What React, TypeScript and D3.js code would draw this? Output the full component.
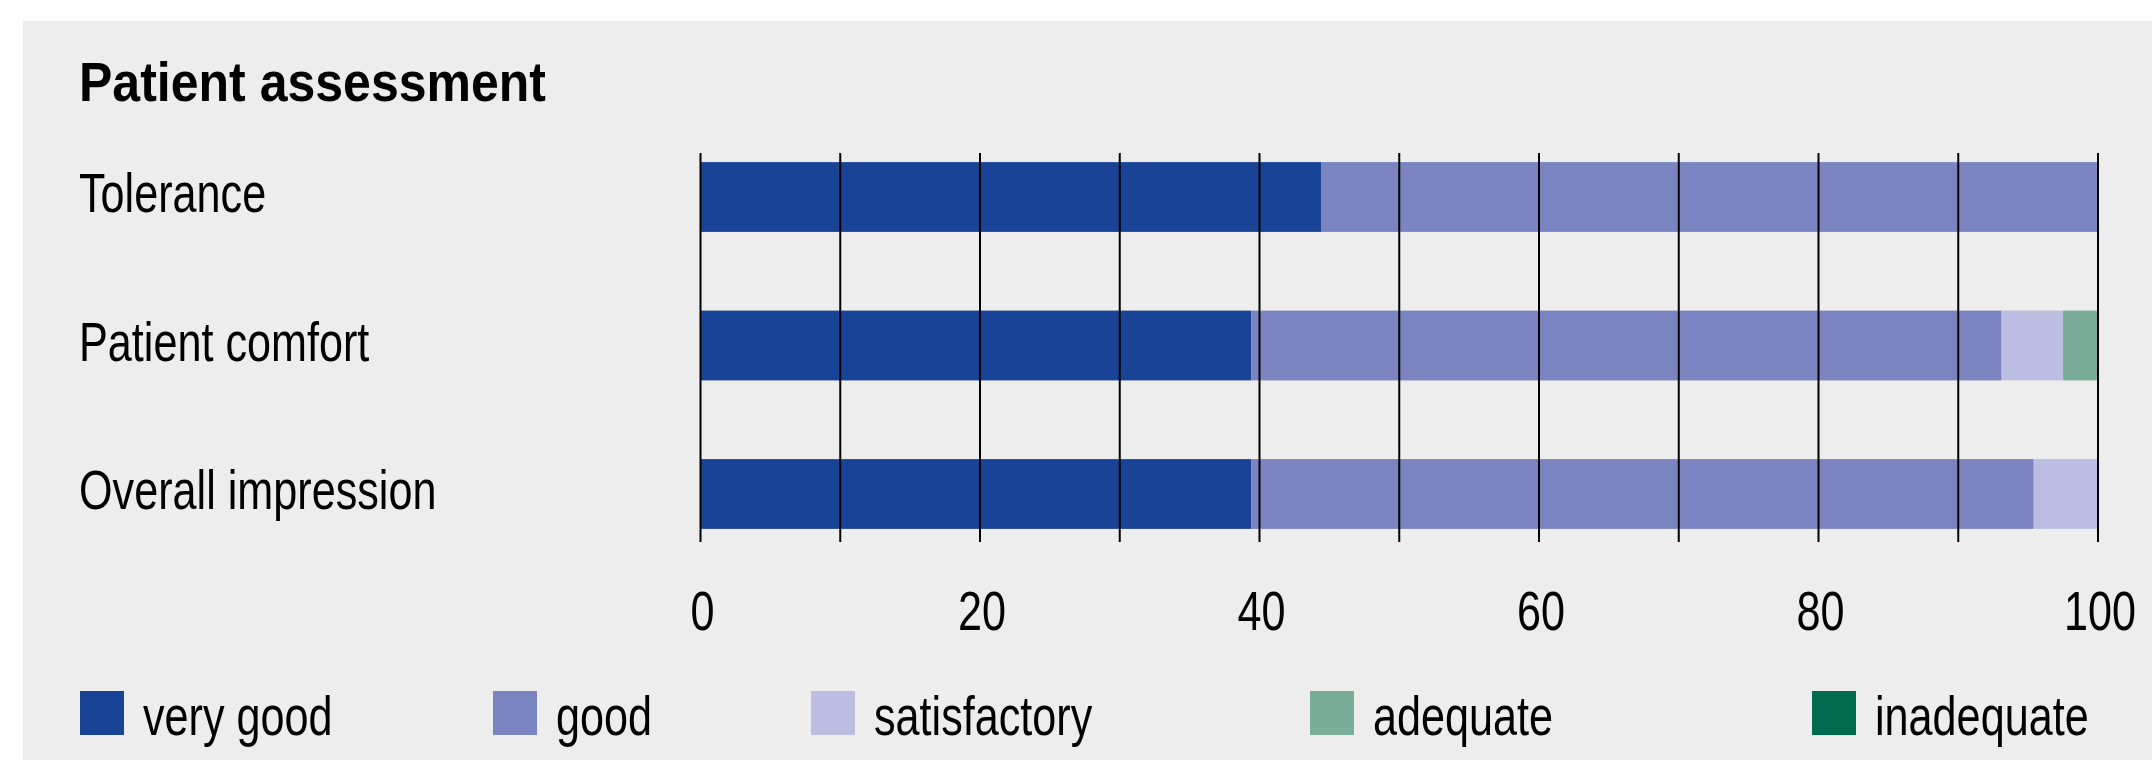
import React from "react";
import * as d3 from "d3";

const title = "Patient assessment";
const categories = ["Tolerance", "Patient comfort", "Overall impression"];
const seriesNames = ["very good", "good", "satisfactory", "adequate", "inadequate"];
const veryGood = [44.4, 39.4, 39.4];
const good = [55.6, 53.7, 56.0];
const satisfactory = [0, 4.4, 4.6];
const adequate = [0, 2.5, 0];
const inadequate = [0, 0, 0];
const xTicks = [0, 20, 40, 60, 80, 100];
const gridValues = [0, 10, 20, 30, 40, 50, 60, 70, 80, 90, 100];

const colors = ["#184396", "#7a84c0", "#bbbee0", "#79ad99", "#006b4e"];
const legendX = [80, 493, 811, 1310, 1812];

const W = 2152;
const H = 760;
const FONT = "'Liberation Sans', Arial, sans-serif";
const SX = 0.785;
const FS = 55;

function Label(props: { x: number; y: number; size: number; anchor?: string; children: any }) {
  return (
    <text
      transform={`translate(${props.x},${props.y}) scale(${SX},1)`}
      fontSize={props.size}
      textAnchor={props.anchor || "start"}
      fill="#000"
    >
      {props.children}
    </text>
  );
}

export default function App() {
  const rows = categories.map((c, i) => ({
    cat: c,
    "very good": veryGood[i],
    good: good[i],
    satisfactory: satisfactory[i],
    adequate: adequate[i],
    inadequate: inadequate[i],
  }));
  const stacked = d3.stack<any>().keys(seriesNames)(rows);

  const x = d3.scaleLinear().domain([0, 100]).range([700.5, 2098]);
  const y = d3
    .scaleBand<string>()
    .domain(categories)
    .range([122.75, 568.25])
    .paddingInner(0.53)
    .paddingOuter(0.265);
  const color = d3.scaleOrdinal<string, string>().domain(seriesNames).range(colors);

  const gridTop = 153;
  const gridBottom = 542;

  return (
    <svg
      width={W}
      height={H}
      style={{ position: "absolute", left: 0, top: 0, display: "block" }}
      fontFamily={FONT}
    >
      <rect x={0} y={0} width={W} height={H} fill="#ffffff" />
      <rect x={23} y={21} width={W - 23} height={H - 21} fill="#ededed" />

      <text
        x={79}
        y={101}
        fontSize={56}
        fontWeight="bold"
        fill="#000"
        textLength={467}
        lengthAdjust="spacingAndGlyphs"
      >
        {title}
      </text>

      {categories.map((c) => (
        <Label key={c} x={79} y={(y(c) as number) + y.bandwidth() / 2 + 15} size={FS}>
          {c}
        </Label>
      ))}

      {stacked.map((s) => (
        <g key={s.key} fill={color(s.key)}>
          {s.map((d, i) =>
            d[1] - d[0] > 0 ? (
              <rect
                key={i}
                x={x(d[0])}
                y={y(categories[i]) as number}
                width={x(d[1]) - x(d[0])}
                height={y.bandwidth()}
              />
            ) : null
          )}
        </g>
      ))}

      {gridValues.map((v) => (
        <line key={v} x1={x(v)} x2={x(v)} y1={gridTop} y2={gridBottom} stroke="#000" strokeWidth={2} />
      ))}

      {xTicks.map((t) => (
        <Label key={t} x={x(t) + 2} y={630} size={FS} anchor="middle">
          {t}
        </Label>
      ))}

      {seriesNames.map((n, i) => (
        <g key={n} transform={`translate(${legendX[i]},691)`}>
          <rect x={0} y={0} width={44} height={44} fill={color(n)} />
          <Label x={63} y={44} size={FS}>
            {n}
          </Label>
        </g>
      ))}
    </svg>
  );
}
